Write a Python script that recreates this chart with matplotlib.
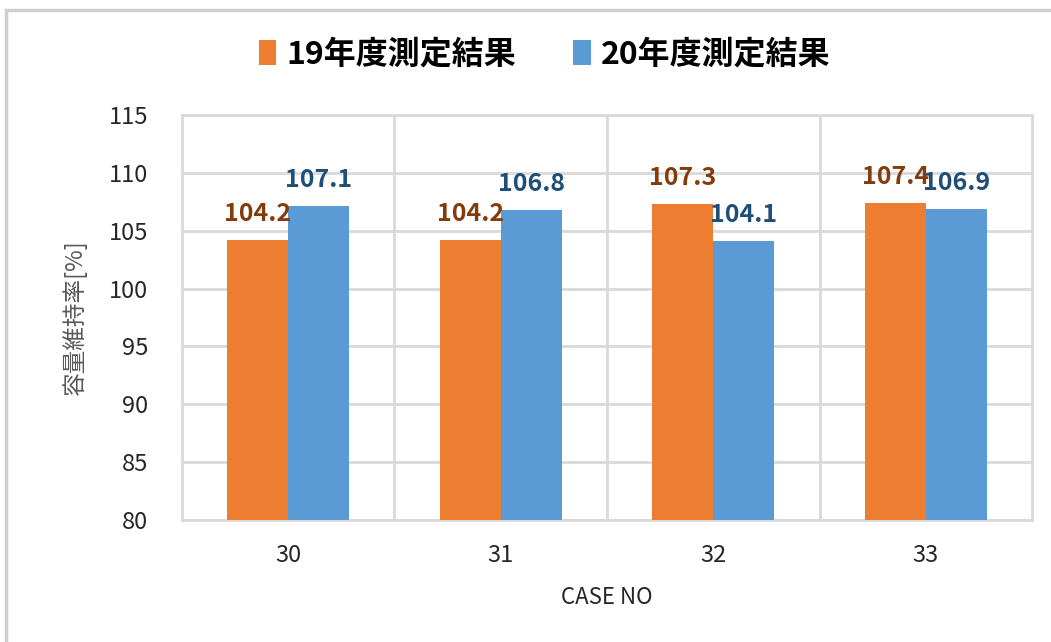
import matplotlib
matplotlib.use("Agg")
import matplotlib.pyplot as plt
import matplotlib.patches as mpatches
import numpy as np

plt.rcParams['font.family'] = ['Noto Sans CJK JP', 'DejaVu Sans']

# data
cases = ["30", "31", "32", "33"]
labels = ["19年度測定結果", "20年度測定結果"]
vals19 = [104.2, 104.2, 107.3, 107.4]
vals20 = [107.1, 106.8, 104.1, 106.9]
label19 = ["104.2", "104.2", "107.3", "107.4"]
label20 = ["107.1", "106.8", "104.1", "106.9"]
yticks = [80, 85, 90, 95, 100, 105, 110, 115]

c_or = "#ED7D31"
c_bl = "#5B9BD5"
grid_c = "#D9D9D9"

fig = plt.figure(figsize=(10.51, 6.42), dpi=100)
ax = fig.add_axes([0.173, 0.19, 0.809, 0.631])

# outer frame
fig.patches.append(mpatches.Rectangle((0.006, -0.05), 1.1, 1.034, transform=fig.transFigure,
                                      fill=False, edgecolor="#D0D0D0", linewidth=2.5, clip_on=False))

x = np.arange(len(cases))
w = 0.287
b1 = ax.bar(x - w / 2, np.array(vals19) - 80, w, bottom=80, color=c_or, label=labels[0], zorder=3)
b2 = ax.bar(x + w / 2, np.array(vals20) - 80, w, bottom=80, color=c_bl, label=labels[1], zorder=3)

for xi, v, t in zip(x, vals19, label19):
    ax.annotate(t, (xi - w / 2, v), xytext=(0, 10), textcoords="offset points", ha="center", va="bottom",
                fontsize=18, fontweight="bold", color="#843C0C", zorder=4)
for xi, v, t in zip(x, vals20, label20):
    ax.annotate(t, (xi + w / 2, v), xytext=(0, 10), textcoords="offset points", ha="center", va="bottom",
                fontsize=18, fontweight="bold", color="#1F4E79", zorder=4)

ax.set_xlim(-0.5, 3.5)
ax.set_ylim(80, 115)
ax.set_yticks(yticks)
ax.set_yticklabels([str(t) for t in yticks], fontsize=17, color="#262626")
ax.set_xticks(x)
ax.set_xticklabels(cases, fontsize=17, color="#262626")
ax.tick_params(axis="y", length=0, pad=24)
ax.tick_params(axis="x", length=0, pad=17)
ax.yaxis.grid(True, color=grid_c, linewidth=2, zorder=0)
for b in [0.5, 1.5, 2.5]:
    ax.axvline(b, color=grid_c, linewidth=2, zorder=0)
for s in ax.spines.values():
    s.set_color(grid_c)
    s.set_linewidth(2)

ax.set_xlabel("CASE NO", fontsize=16, color="#262626", labelpad=14)
ax.set_ylabel("容量維持率[%]", fontsize=17, color="#595959", labelpad=16)

fig.legend(handles=[b1, b2], labels=labels, loc="center", bbox_to_anchor=(0.518, 0.915), ncol=2,
           frameon=False, prop={"size": 23, "weight": "bold"}, handlelength=0.55, handleheight=0.8,
           handletextpad=0.3, columnspacing=1.8)

fig.savefig("out.png", dpi=100)
